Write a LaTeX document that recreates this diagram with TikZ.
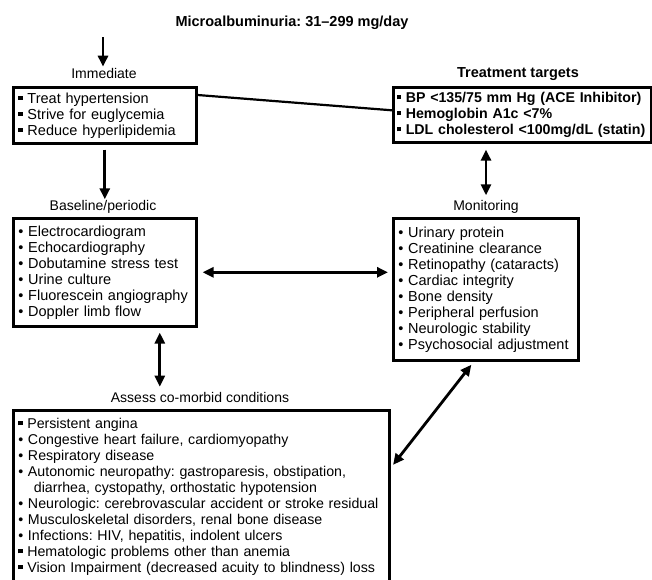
\documentclass[tikz,border=0pt]{standalone}
\usepackage{fontspec}
\setmainfont{Liberation Sans}
\usetikzlibrary{arrows.meta,positioning}

\newcommand{\rdot}{\textbullet\ }
\newcommand{\sqdot}{\rule[0.22em]{0.3em}{0.3em}\ }

\tikzset{
	txt/.style={font=\fontsize{14.5}{16}\selectfont},
	lbl/.style={font=\fontsize{14}{16}\selectfont, inner sep=1pt},
	box/.style={txt, draw, line width=2.6pt, anchor=north west, align=left, inner xsep=5pt},
	arr/.style={line width=2.8pt, -{Triangle[length=11pt,width=10pt]}},
	dbl/.style={line width=2.8pt, {Triangle[length=11pt,width=10pt]}-{Triangle[length=11pt,width=10pt]}},
}

\begin{document}
\frenchspacing
\begin{tikzpicture}[x=1pt,y=1pt,yscale=-1,xscale=1]
	\path[use as bounding box] (0,0) rectangle (652,579);
	
	% Text Node
	\node[lbl, font=\fontsize{14.5}{16}\selectfont\bfseries] (title) at (292,23) {Microalbuminuria: 31--299 mg/day};
	\coordinate (start) at (103,37);
	
	%Shape: Immediate
	\node[lbl] (immlbl) at (104,73) {Immediate};
	\node[box, text width=173pt, minimum height=56pt] (imm) at (12,86)
		{\sqdot Treat hypertension\\ \sqdot Strive for euglycemia\\ \sqdot Reduce hyperlipidemia};
	
	%Shape: Treatment targets
	\node[lbl, font=\fontsize{14.5}{16}\selectfont\bfseries] (tgtlbl) at (518,74) {Treatment targets};
	\node[box, font=\fontsize{14.2}{16}\selectfont\bfseries, inner xsep=3.5pt, text width=251pt, minimum height=55pt] (tgt) at (392,86)
		{\sqdot BP <135/75 mm Hg (ACE Inhibitor)\\ \sqdot Hemoglobin A1c <7\%\\ \sqdot LDL cholesterol <100mg/dL (statin)};
	
	%Shape: Baseline/periodic
	\node[lbl] (baselbl) at (103,207) {Baseline/periodic};
	\node[box, text width=173pt, minimum height=108pt] (base) at (12,217)
		{\rdot Electrocardiogram\\ \rdot Echocardiography\\ \rdot Dobutamine stress test\\ \rdot Urine culture\\ \rdot Fluorescein angiography\\ \rdot Doppler limb flow};
	
	%Shape: Monitoring
	\node[lbl] (monlbl) at (486,207) {Monitoring};
	\node[box, text width=175pt, minimum height=142pt] (mon) at (392,217)
		{\rdot Urinary protein\\ \rdot Creatinine clearance\\ \rdot Retinopathy (cataracts)\\ \rdot Cardiac integrity\\ \rdot Bone density\\ \rdot Peripheral perfusion\\ \rdot Neurologic stability\\ \rdot Psychosocial adjustment};
	
	%Shape: Co-morbid conditions
	\node[box, font=\fontsize{14.2}{16}\selectfont, text width=366pt, minimum height=173pt] (co) at (12,409)
		{\sqdot Persistent angina\\ \rdot Congestive heart failure, cardiomyopathy\\ \rdot Respiratory disease\\ \rdot Autonomic neuropathy: gastroparesis, obstipation,\\ \hspace*{1.1em}diarrhea, cystopathy, orthostatic hypotension\\ \rdot Neurologic: cerebrovascular accident or stroke residual\\ \rdot Musculoskeletal disorders, renal bone disease\\ \rdot Infections: HIV, hepatitis, indolent ulcers\\ \sqdot Hematologic problems other than anemia\\ \sqdot Vision Impairment (decreased acuity to blindness) loss};
	\node[lbl] (colbl) at (200,397) {Assess co-morbid conditions};
	
	%Straight Lines
	\draw[arr] (start) -- (start |- immlbl.north);
	\draw[line width=2.2pt] ([yshift=9pt]imm.north east) -- ([yshift=-4.5pt]tgt.west);
	\draw[arr, shorten <=5pt] (imm.south) -- (imm.south |- baselbl.north);
	\draw[dbl, shorten <=6pt, shorten >=4pt] (tgt.south -| monlbl) -- (monlbl.north);
	\draw[dbl, shorten <=5pt, shorten >=4pt] (base.east) -- (base.east -| mon.west);
	\draw[dbl, shorten <=5pt, shorten >=4pt] ([xshift=55pt]base.south) -- ([xshift=55pt]base.south |- colbl.north);
	\draw[dbl, shorten <=4pt, shorten >=4pt] ([xshift=-12pt]mon.south) -- ([yshift=59pt]co.north east);
	
\end{tikzpicture}
\end{document}
